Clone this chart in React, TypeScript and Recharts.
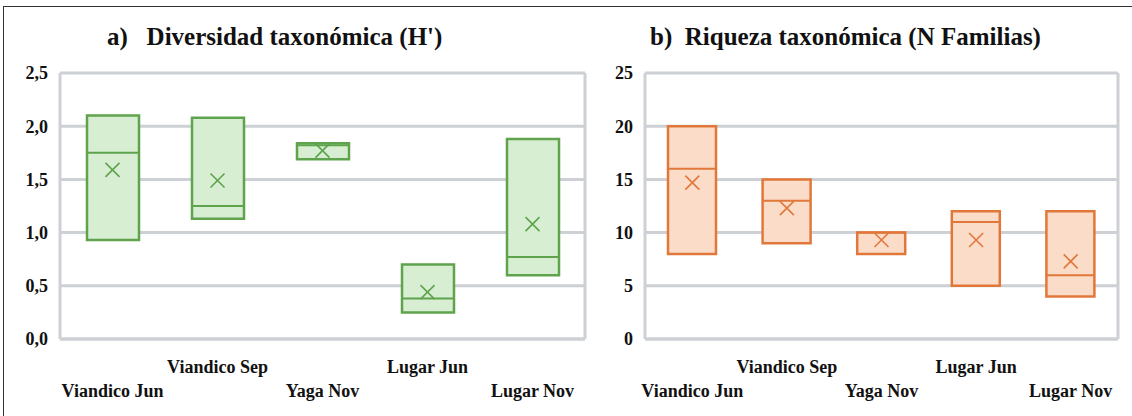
import { Bar, CartesianGrid, ComposedChart, Scatter, XAxis, YAxis } from "recharts";

const categories = ["Viandico Jun", "Viandico Sep", "Yaga Nov", "Lugar Jun", "Lugar Nov"];

// a) Diversidad taxonómica (H')
const diversityQ1 = [0.93, 1.13, 1.69, 0.25, 0.6];
const diversityQ3 = [2.1, 2.08, 1.84, 0.7, 1.88];
const diversityMedian = [1.75, 1.25, 1.82, 0.38, 0.77];
const diversityMean = [1.59, 1.49, 1.77, 0.44, 1.08];
const diversityTicks = [0, 0.5, 1, 1.5, 2, 2.5];

// b) Riqueza taxonómica (N Familias)
const richnessQ1 = [8, 9, 8, 5, 4];
const richnessQ3 = [20, 15, 10, 12, 12];
const richnessMedian = [16, 13, 10, 11, 6];
const richnessMean = [14.7, 12.3, 9.3, 9.3, 7.3];
const richnessTicks = [0, 5, 10, 15, 20, 25];

const serif = '"Times New Roman", Times, "Liberation Serif", Tinos, "Nimbus Roman", "DejaVu Serif", serif';
const gridGray = "#cdd0d4";

function buildRows(q1: number[], q3: number[], median: number[], mean: number[]) {
  return categories.map((name, i) => ({
    name,
    box: [q1[i], q3[i]],
    median: median[i],
    mean: mean[i],
  }));
}

const StaggerTick = (props: any) => {
  const { x, y, payload, index } = props;
  return (
    <text
      x={x}
      y={y + (index % 2 === 0 ? 50 : 26)}
      textAnchor="middle"
      fontFamily={serif}
      fontWeight="bold"
      fontSize={18}
      fill="#111"
    >
      {payload.value}
    </text>
  );
};

interface BoxPanelProps {
  rows: any[];
  ticks: number[];
  format: (v: number) => string;
  stroke: string;
  fill: string;
  width: number;
  boxSize: number;
  marginRight: number;
  axisWidth: number;
}

function BoxPanel({ rows, ticks, format, stroke, fill, width, boxSize, marginRight, axisWidth }: BoxPanelProps) {
  const half = boxSize / 2;
  return (
    <ComposedChart
      width={width}
      height={416}
      data={rows}
      margin={{ top: 73, right: marginRight, bottom: 0, left: 0 }}
    >
      <CartesianGrid
        stroke={gridGray}
        strokeWidth={3}
        verticalCoordinatesGenerator={({ offset }: any) => [offset.left, offset.left + offset.width]}
      />
      <XAxis
        dataKey="name"
        axisLine={{ stroke: gridGray, strokeWidth: 3 }}
        tickLine={false}
        height={77}
        interval={0}
        tick={<StaggerTick />}
      />
      <YAxis
        domain={[ticks[0], ticks[ticks.length - 1]]}
        ticks={ticks}
        width={axisWidth}
        axisLine={false}
        tickLine={false}
        tickFormatter={format}
        tick={{ fontFamily: serif, fontWeight: "bold", fontSize: 18, fill: "#111" }}
        tickMargin={6}
      />
      <Bar
        dataKey="box"
        barSize={boxSize}
        fill={fill}
        stroke={stroke}
        strokeWidth={2.5}
        isAnimationActive={false}
      />
      <Scatter
        dataKey="median"
        isAnimationActive={false}
        shape={(p: any) => (
          <line x1={p.cx - half} x2={p.cx + half} y1={p.cy} y2={p.cy} stroke={stroke} strokeWidth={2} />
        )}
      />
      <Scatter
        dataKey="mean"
        isAnimationActive={false}
        shape={(p: any) => (
          <g stroke={stroke} strokeWidth={1.6}>
            <line x1={p.cx - 7} x2={p.cx + 7} y1={p.cy - 7} y2={p.cy + 7} />
            <line x1={p.cx - 7} x2={p.cx + 7} y1={p.cy + 7} y2={p.cy - 7} />
          </g>
        )}
      />
    </ComposedChart>
  );
}

const titleStyle: React.CSSProperties = {
  position: "absolute",
  top: 23,
  fontFamily: serif,
  fontWeight: "bold",
  fontSize: 25,
  color: "#111",
  whiteSpace: "pre",
};

export default function App() {
  const diversityRows = buildRows(diversityQ1, diversityQ3, diversityMedian, diversityMean);
  const richnessRows = buildRows(richnessQ1, richnessQ3, richnessMedian, richnessMean);
  return (
    <div
      style={{
        position: "absolute",
        left: 0,
        top: 0,
        width: 1132,
        height: 416,
        background: "#fff",
        overflow: "hidden",
      }}
    >
      <div
        style={{
          position: "absolute",
          left: 3,
          top: 6,
          width: 1140,
          height: 420,
          border: "1.5px solid #333",
        }}
      />
      <div style={{ ...titleStyle, left: 107 }}>{"a)   Diversidad taxonómica (H')"}</div>
      <div style={{ ...titleStyle, left: 650 }}>{"b)  Riqueza taxonómica (N Familias)"}</div>
      <div style={{ position: "absolute", left: 0, top: 0 }}>
        <BoxPanel
          rows={diversityRows}
          ticks={diversityTicks}
          format={(v) => v.toFixed(1).replace(".", ",")}
          stroke="#5fa34c"
          fill="#d7eed2"
          width={587}
          boxSize={52}
          marginRight={2}
          axisWidth={60}
        />
      </div>
      <div style={{ position: "absolute", left: 587, top: 0 }}>
        <BoxPanel
          rows={richnessRows}
          ticks={richnessTicks}
          format={(v) => String(v)}
          stroke="#e1783a"
          fill="#fbdcc9"
          width={545}
          boxSize={48}
          marginRight={14}
          axisWidth={58}
        />
      </div>
    </div>
  );
}
